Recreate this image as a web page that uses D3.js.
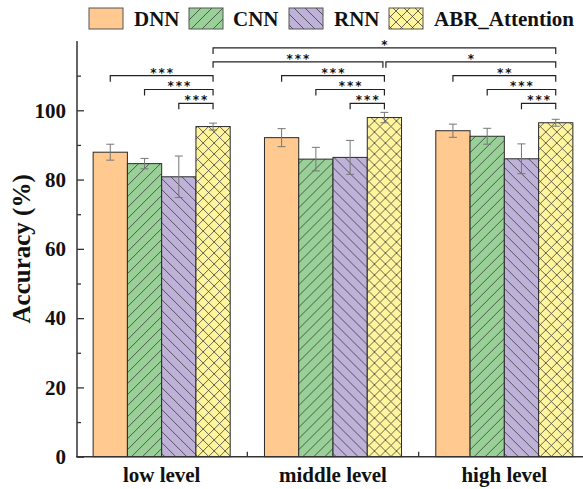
<!DOCTYPE html>
<html>
<head>
<meta charset="utf-8">
<script src="https://cdn.jsdelivr.net/npm/d3@7"></script>
<style>
  html, body { margin: 0; padding: 0; background: #fff; }
  svg { display: block; }
</style>
</head>
<body>
<svg id="chart" width="583" height="489"></svg>
<script>
// Accuracy of four models at three task levels, mean ± error
const categories = ["low level", "middle level", "high level"];
const models = ["DNN", "CNN", "RNN", "ABR_Attention"];
const dnnValues = [87.9, 92.1, 94.1];
const dnnErrors = [2.3, 2.6, 1.9];
const cnnValues = [84.6, 85.9, 92.5];
const cnnErrors = [1.5, 3.4, 2.3];
const rnnValues = [80.8, 86.4, 86.0];
const rnnErrors = [6.0, 4.9, 4.3];
const abrValues = [95.3, 97.9, 96.4];
const abrErrors = [1.0, 1.5, 1.0];
const yTicks = [0, 20, 40, 60, 80, 100];
const yMinorTicks = [10, 30, 50, 70, 90, 110];

// Significance brackets: [category, model] pairs, bracket height in % and stars
const sigBrackets = [
  { a: [0, 0], b: [0, 3], level: 110, label: "***" },
  { a: [0, 1], b: [0, 3], level: 106, label: "***" },
  { a: [0, 2], b: [0, 3], level: 102, label: "***" },
  { a: [1, 0], b: [1, 3], level: 110, label: "***" },
  { a: [1, 1], b: [1, 3], level: 106, label: "***" },
  { a: [1, 2], b: [1, 3], level: 102, label: "***" },
  { a: [2, 0], b: [2, 3], level: 110, label: "**" },
  { a: [2, 1], b: [2, 3], level: 106, label: "***" },
  { a: [2, 2], b: [2, 3], level: 102, label: "***" },
  { a: [0, 3], b: [1, 3], level: 114, label: "***", trimB: 1.5 },
  { a: [1, 3], b: [2, 3], level: 114, label: "*", trimA: 1.5 },
  { a: [0, 3], b: [2, 3], level: 118, label: "*" }
];

const seriesValues = [dnnValues, cnnValues, rnnValues, abrValues];
const seriesErrors = [dnnErrors, cnnErrors, rnnErrors, abrErrors];
const fills = ["#FFC990", "#99D098", "#BFB2D8", "#FFF59E"];
const hatches = [null, "fwd", "back", "cross"];

const svg = d3.select("#chart");
const serif = "'Liberation Serif', 'Times New Roman', serif";

const margin = { left: 77, top: 41, bottom: 456.7 };
const x0 = d3.scaleBand().domain(d3.range(categories.length))
  .range([76, 590]).paddingInner(0.2).paddingOuter(0.1);
const x1 = d3.scaleBand().domain(d3.range(models.length))
  .range([0, x0.bandwidth()]);
const y = d3.scaleLinear().domain([0, 120]).range([margin.bottom, margin.top]);

// Hatch patterns
const defs = svg.append("defs");
const P = 11;
const hatchPaths = {
  fwd: `M0,${P} L${P},0 M-2,2 L2,-2 M${P - 2},${P + 2} L${P + 2},${P - 2}`,
  back: `M0,0 L${P},${P} M-2,${P - 2} L2,${P + 2} M${P - 2},-2 L${P + 2},2`,
  cross: `M0,${P} L${P},0 M-2,2 L2,-2 M${P - 2},${P + 2} L${P + 2},${P - 2} M0,0 L${P},${P} M-2,${P - 2} L2,${P + 2} M${P - 2},-2 L${P + 2},2`
};
models.forEach((m, i) => {
  if (!hatches[i]) return;
  const p = defs.append("pattern")
    .attr("id", "hatch" + i)
    .attr("patternUnits", "userSpaceOnUse")
    .attr("width", P).attr("height", P);
  p.append("rect").attr("width", P).attr("height", P).attr("fill", fills[i]);
  p.append("path").attr("d", hatchPaths[hatches[i]])
    .attr("stroke", "#333").attr("stroke-width", 0.75).attr("fill", "none");
});
const fillFor = i => hatches[i] ? `url(#hatch${i})` : fills[i];

// Bars
const groups = svg.append("g").selectAll("g")
  .data(categories).join("g")
  .attr("transform", (d, ci) => `translate(${x0(ci)},0)`);

groups.each(function (cat, ci) {
  const g = d3.select(this);
  models.forEach((m, mi) => {
    const v = seriesValues[mi][ci];
    g.append("rect")
      .attr("x", x1(mi)).attr("y", y(v))
      .attr("width", x1.bandwidth()).attr("height", y(0) - y(v))
      .attr("fill", fillFor(mi))
      .attr("stroke", "#2a2a2a").attr("stroke-width", 1);
  });
  // Error bars
  models.forEach((m, mi) => {
    const v = seriesValues[mi][ci], e = seriesErrors[mi][ci];
    const cx = x1(mi) + x1.bandwidth() / 2;
    const eg = g.append("g").attr("stroke", "#777").attr("stroke-width", 1);
    eg.append("line").attr("x1", cx).attr("x2", cx).attr("y1", y(v + e)).attr("y2", y(v - e));
    eg.append("line").attr("x1", cx - 4).attr("x2", cx + 4).attr("y1", y(v + e)).attr("y2", y(v + e));
    eg.append("line").attr("x1", cx - 4).attr("x2", cx + 4).attr("y1", y(v - e)).attr("y2", y(v - e));
  });
});

// Axes
const axisColor = "#333";
const yAxis = svg.append("g").attr("transform", `translate(${margin.left},0)`)
  .call(d3.axisLeft(y).tickValues(yTicks).tickSize(-7).tickPadding(11).tickFormat(d3.format("d")));
svg.append("g").attr("transform", `translate(${margin.left},0)`)
  .call(d3.axisLeft(y).tickValues(yMinorTicks).tickSize(-4).tickFormat(""))
  .call(g => g.select(".domain").remove());
yAxis.select(".domain").attr("d", `M0,${y(120)}V${y(0)}`);
svg.selectAll(".tick line").attr("stroke", axisColor).attr("stroke-width", 1.3);
yAxis.select(".domain").attr("stroke", axisColor).attr("stroke-width", 1.5);
yAxis.selectAll("text")
  .attr("font-family", serif).attr("font-weight", "bold")
  .attr("font-size", 21).attr("fill", "#111");

const xAxisG = svg.append("g").attr("transform", `translate(0,${margin.bottom})`);
xAxisG.append("line").attr("x1", margin.left - 1).attr("x2", 590)
  .attr("stroke", axisColor).attr("stroke-width", 1.5);
// ticks at the group boundaries
d3.range(1, categories.length).forEach(i => {
  const bx = x0(i) - x0.step() * x0.paddingInner() / 2;
  xAxisG.append("line").attr("x1", bx).attr("x2", bx).attr("y1", 0).attr("y2", -5)
    .attr("stroke", axisColor).attr("stroke-width", 1.3);
});
xAxisG.selectAll("text.cat").data(categories).join("text")
  .attr("class", "cat")
  .attr("x", (d, i) => x0(i) + x0.bandwidth() / 2)
  .attr("y", 25)
  .attr("text-anchor", "middle")
  .attr("font-family", serif).attr("font-weight", "bold")
  .attr("font-size", 21).attr("fill", "#111")
  .text(d => d);

// Y title
svg.append("text")
  .attr("transform", `translate(30,${(y(0) + y(120)) / 2}) rotate(-90)`)
  .attr("text-anchor", "middle")
  .attr("font-family", serif).attr("font-weight", "bold")
  .attr("font-size", 25).attr("fill", "#111")
  .text("Accuracy (%)");

// Significance brackets
const barCenter = ([ci, mi]) => x0(ci) + x1(mi) + x1.bandwidth() / 2;
const sigG = svg.append("g");
const starSpacing = 2;
sigBrackets.forEach(b => {
  const xa = barCenter(b.a) + (b.trimA || 0);
  const xb = barCenter(b.b) - (b.trimB || 0);
  const yl = y(b.level);
  sigG.append("path")
    .attr("d", `M${xa},${yl + 6}V${yl}H${xb}V${yl + 6}`)
    .attr("fill", "none").attr("stroke", "#222").attr("stroke-width", 1.2);
  sigG.append("text")
    .attr("x", (xa + xb) / 2 + starSpacing / 2).attr("y", yl + 1)
    .attr("text-anchor", "middle")
    .attr("letter-spacing", starSpacing)
    .attr("font-family", "'DejaVu Sans', sans-serif")
    .attr("font-weight", "bold")
    .attr("font-size", 12).attr("fill", "#111")
    .text(b.label);
});

// Legend
const legendItems = [
  { x: 89, tx: 134 },
  { x: 189, tx: 233 },
  { x: 289, tx: 334 },
  { x: 389, tx: 434 }
];
const legend = svg.append("g");
models.forEach((m, i) => {
  legend.append("rect")
    .attr("x", legendItems[i].x).attr("y", 8)
    .attr("width", 34).attr("height", 21)
    .attr("fill", fillFor(i)).attr("stroke", "#555").attr("stroke-width", 1);
  legend.append("text")
    .attr("x", legendItems[i].tx).attr("y", 26)
    .attr("font-family", serif).attr("font-weight", "bold")
    .attr("font-size", 21).attr("fill", "#111")
    .text(m);
});
</script>
</body>
</html>
